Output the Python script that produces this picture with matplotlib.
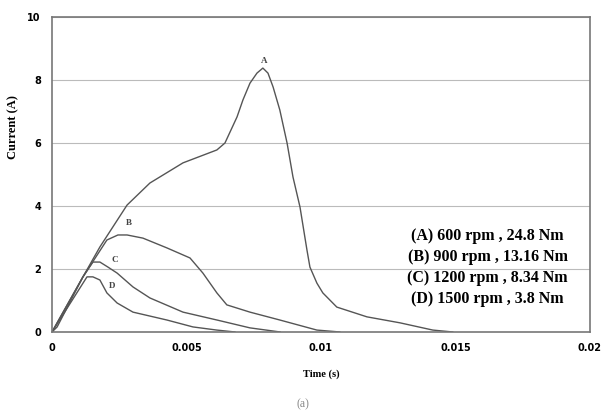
import matplotlib.pyplot as plt

# current waveforms (time in s, current in A)
t_a = [0, 0.00019, 0.00115, 0.00178, 0.00279, 0.00364, 0.00487, 0.00613, 0.00643,
       0.00688, 0.0071, 0.00736, 0.00762, 0.00784, 0.00803, 0.00822, 0.00847,
       0.00874, 0.00896, 0.00922, 0.00948, 0.00959, 0.00985, 0.01007, 0.01059,
       0.01171, 0.01294, 0.01416, 0.0149]
i_a = [0, 0.16, 1.75, 2.70, 4.03, 4.73, 5.37, 5.78, 6.0,
       6.83, 7.37, 7.9, 8.22, 8.38, 8.22, 7.78, 7.05,
       6.0, 4.92, 3.97, 2.6, 2.06, 1.55, 1.24, 0.79,
       0.48, 0.29, 0.06, 0]

t_b = [0, 0.00115, 0.00204, 0.00245, 0.00279, 0.00338, 0.00427, 0.00513, 0.00561,
       0.00613, 0.0065, 0.00736, 0.00847, 0.00985, 0.0107]
i_b = [0, 1.75, 2.92, 3.08, 3.08, 2.98, 2.67, 2.35, 1.87,
       1.24, 0.86, 0.63, 0.38, 0.06, 0]

t_c = [0, 0.00115, 0.00152, 0.00178, 0.00208, 0.00242, 0.00301, 0.00364, 0.00487,
       0.00613, 0.00736, 0.00848]
i_c = [0, 1.75, 2.22, 2.22, 2.06, 1.87, 1.43, 1.08, 0.63,
       0.38, 0.13, 0]

t_d = [0, 0.0013, 0.00152, 0.00178, 0.00204, 0.00242, 0.00301, 0.00427, 0.00524,
       0.00613, 0.0068]
i_d = [0, 1.75, 1.75, 1.65, 1.24, 0.92, 0.63, 0.38, 0.16,
       0.06, 0]

curve_names = ['A', 'B', 'C', 'D']
name_pos = [(0.0079, 8.6), (0.00285, 3.45), (0.00232, 2.3), (0.00225, 1.45)]
legend_lines = ['(A) 600 rpm , 24.8 Nm', '(B) 900 rpm , 13.16 Nm',
                '(C) 1200 rpm , 8.34 Nm', '(D) 1500 rpm , 3.8 Nm']

xticks = [0, 0.005, 0.01, 0.015, 0.02]
xtick_labels = ['0', '0.005', '0.01', '0.015', '0.02']
yticks = [0, 2, 4, 6, 8, 10]

serif = 'Liberation Serif'

fig = plt.figure(figsize=(6.05, 4.16), dpi=100)
ax = fig.add_axes([0.086, 0.202, 0.889, 0.757])

for t, cur in [(t_a, i_a), (t_b, i_b), (t_c, i_c), (t_d, i_d)]:
    ax.plot(t, cur, color='#555555', lw=1.0)

for name, (x, y) in zip(curve_names, name_pos):
    ax.text(x, y, name, fontsize=6.5, fontweight='bold', family=serif,
            color='#444444', ha='center', va='center')

for k, line in enumerate(legend_lines):
    ax.text(0.0162, 3.05 - k * 0.67, line, fontsize=11.5, fontweight='bold',
            family=serif, ha='center', va='center')

ax.set_xlim(0, 0.02)
ax.set_ylim(0, 10)
ax.set_xticks(xticks)
ax.set_xticklabels(xtick_labels)
ax.set_yticks(yticks)
ax.tick_params(length=0, labelsize=7, pad=8)
for lab in ax.get_xticklabels() + ax.get_yticklabels():
    lab.set_fontweight('bold')
ax.grid(axis='y', color='#bbbbbb', lw=0.8)
ax.grid(axis='x', visible=False)
for s in ax.spines.values():
    s.set_color('#777777')
    s.set_linewidth(1.2)

ax.set_xlabel('Time (s)', fontsize=7.5, fontweight='bold', family=serif)
ax.xaxis.set_label_coords(0.5, -0.12)
ax.set_ylabel('Current (A)', fontsize=9, fontweight='bold', family=serif)
ax.yaxis.set_label_coords(-0.06, 0.65)
fig.text(0.5, 0.02, '(a)', fontsize=8.5, family=serif, color='#888888', ha='center')

fig.savefig('out.png', dpi=100)
